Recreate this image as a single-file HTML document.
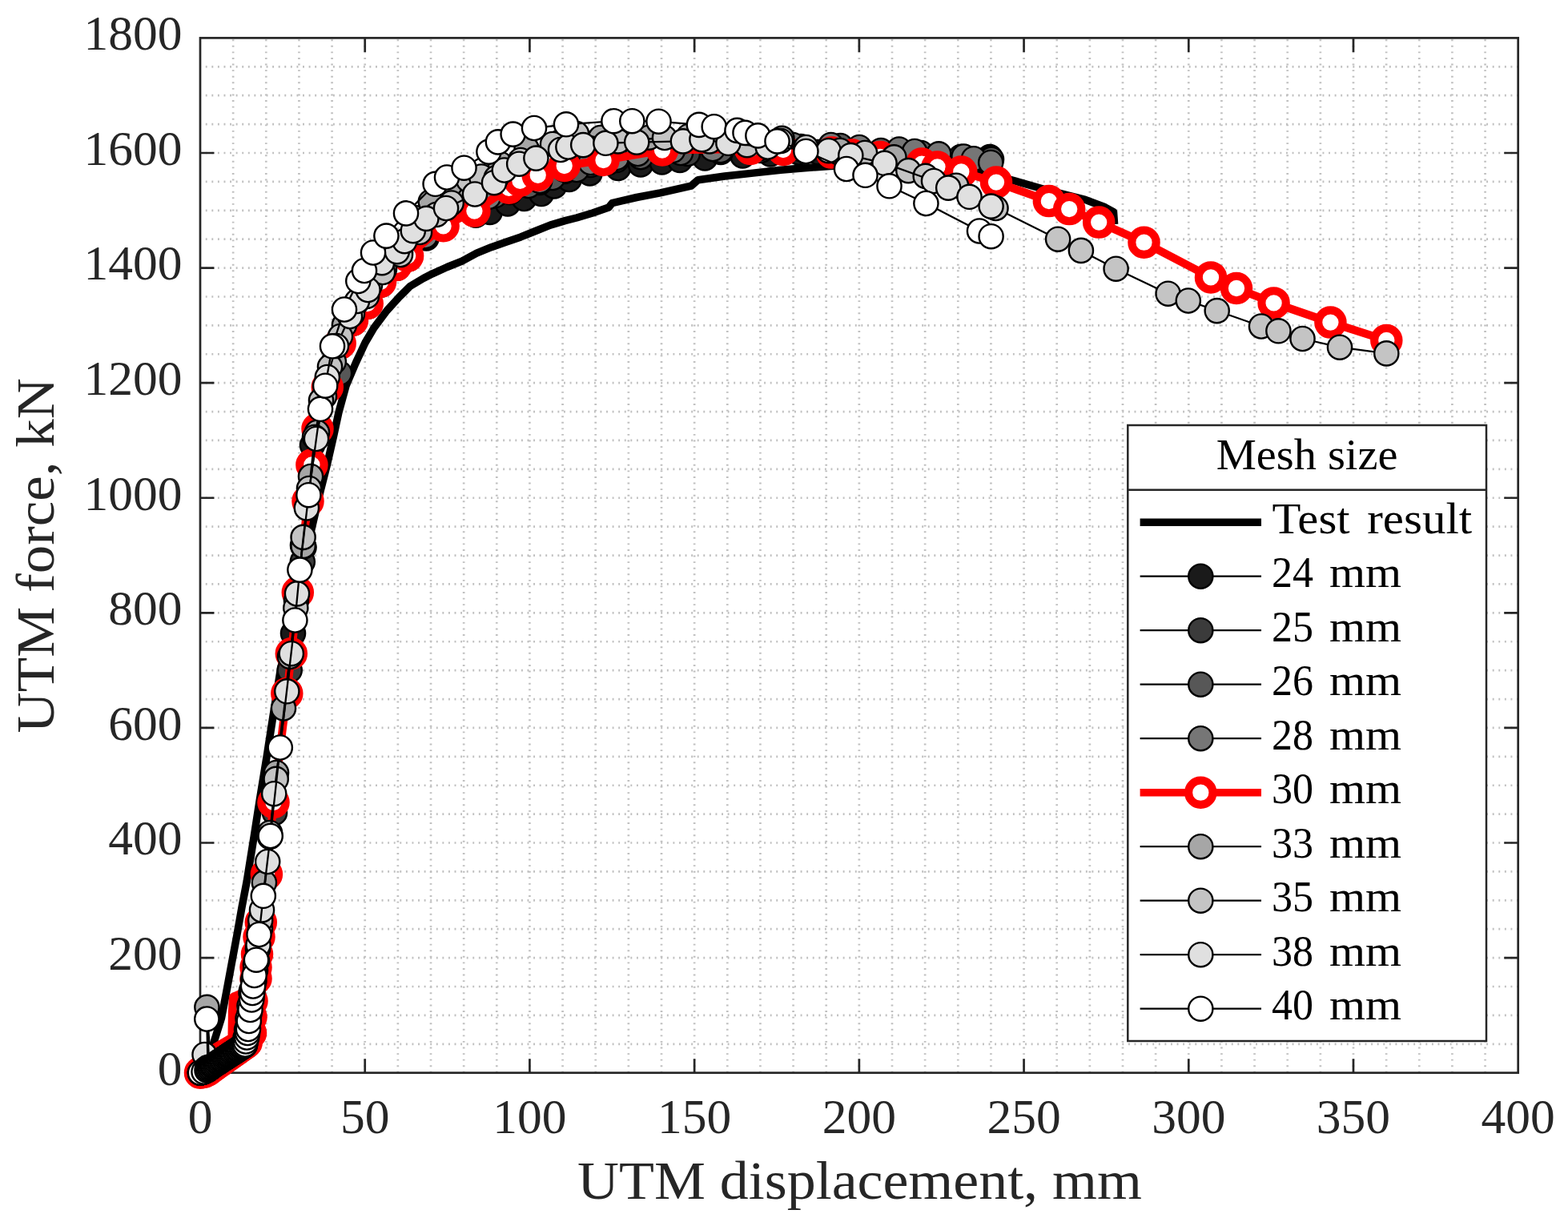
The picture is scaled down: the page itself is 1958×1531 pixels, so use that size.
<!DOCTYPE html>
<html><head><meta charset="utf-8"><style>html,body{margin:0;padding:0;background:#fff;overflow:hidden}svg{display:block}</style></head>
<body>
<svg width="1958" height="1531" viewBox="0 0 1958 1531">
<rect width="1958" height="1531" fill="#fff"/>
<path d="M291.14 47.40V1339.70M332.28 47.40V1339.70M373.43 47.40V1339.70M414.57 47.40V1339.70M455.71 47.40V1339.70M496.86 47.40V1339.70M538.00 47.40V1339.70M579.14 47.40V1339.70M620.28 47.40V1339.70M661.42 47.40V1339.70M702.57 47.40V1339.70M743.71 47.40V1339.70M784.85 47.40V1339.70M826.00 47.40V1339.70M867.14 47.40V1339.70M908.28 47.40V1339.70M949.42 47.40V1339.70M990.57 47.40V1339.70M1031.71 47.40V1339.70M1072.85 47.40V1339.70M1113.99 47.40V1339.70M1155.13 47.40V1339.70M1196.28 47.40V1339.70M1237.42 47.40V1339.70M1278.56 47.40V1339.70M1319.71 47.40V1339.70M1360.85 47.40V1339.70M1401.99 47.40V1339.70M1443.13 47.40V1339.70M1484.28 47.40V1339.70M1525.42 47.40V1339.70M1566.56 47.40V1339.70M1607.70 47.40V1339.70M1648.85 47.40V1339.70M1689.99 47.40V1339.70M1731.13 47.40V1339.70M1772.27 47.40V1339.70M1813.41 47.40V1339.70M1854.56 47.40V1339.70" stroke="#c0c0c0" stroke-width="2.7" stroke-dasharray="1.9 5.68" stroke-dashoffset="5.71" fill="none"/>
<path d="M250.00 1303.80H1895.70M250.00 1267.91H1895.70M250.00 1232.01H1895.70M250.00 1196.11H1895.70M250.00 1160.21H1895.70M250.00 1124.32H1895.70M250.00 1088.42H1895.70M250.00 1052.52H1895.70M250.00 1016.62H1895.70M250.00 980.73H1895.70M250.00 944.83H1895.70M250.00 908.93H1895.70M250.00 873.04H1895.70M250.00 837.14H1895.70M250.00 801.24H1895.70M250.00 765.34H1895.70M250.00 729.45H1895.70M250.00 693.55H1895.70M250.00 657.65H1895.70M250.00 621.76H1895.70M250.00 585.86H1895.70M250.00 549.96H1895.70M250.00 514.06H1895.70M250.00 478.17H1895.70M250.00 442.27H1895.70M250.00 406.37H1895.70M250.00 370.48H1895.70M250.00 334.58H1895.70M250.00 298.68H1895.70M250.00 262.78H1895.70M250.00 226.89H1895.70M250.00 190.99H1895.70M250.00 155.09H1895.70M250.00 119.19H1895.70M250.00 83.30H1895.70" stroke="#c0c0c0" stroke-width="2.7" stroke-dasharray="1.9 5.68" stroke-dashoffset="0.81" fill="none"/>
<path d="M455.71 1339.70v-17.5M455.71 47.40v17.5M661.42 1339.70v-17.5M661.42 47.40v17.5M867.14 1339.70v-17.5M867.14 47.40v17.5M1072.85 1339.70v-17.5M1072.85 47.40v17.5M1278.56 1339.70v-17.5M1278.56 47.40v17.5M1484.28 1339.70v-17.5M1484.28 47.40v17.5M1689.99 1339.70v-17.5M1689.99 47.40v17.5M250.00 1196.11h17.5M1895.70 1196.11h-17.5M250.00 1052.52h17.5M1895.70 1052.52h-17.5M250.00 908.93h17.5M1895.70 908.93h-17.5M250.00 765.34h17.5M1895.70 765.34h-17.5M250.00 621.76h17.5M1895.70 621.76h-17.5M250.00 478.17h17.5M1895.70 478.17h-17.5M250.00 334.58h17.5M1895.70 334.58h-17.5M250.00 190.99h17.5M1895.70 190.99h-17.5" stroke="#262626" stroke-width="2.7" fill="none"/>
<rect x="250.00" y="47.40" width="1645.70" height="1292.30" stroke="#262626" stroke-width="2.7" fill="none"/>
<polyline points="250.0,1339.7 256.0,1333.0 262.0,1318.0 266.0,1305.0 270.0,1292.2 276.5,1271.3 282.5,1240.0 289.5,1202.0 296.0,1167.0 302.0,1133.0 308.3,1100.0 317.2,1044.5 324.5,997.5 333.9,940.0 340.3,898.6 350.0,838.0 363.5,774.0 377.0,712.0 391.3,651.0 400.3,612.3 408.5,580.0 416.5,545.0 422.9,515.2 432.0,482.0 444.1,453.5 456.0,428.0 467.0,409.4 483.0,388.0 498.8,370.6 512.0,357.5 528.8,347.5 540.0,341.8 558.4,333.5 576.8,326.2 595.2,316.1 613.5,308.7 631.9,302.3 650.3,295.9 668.7,288.5 687.1,281.1 705.5,275.6 720.0,272.0 740.0,266.0 760.1,259.0 764.4,253.6 795.0,246.5 824.5,240.8 863.1,232.2 871.7,224.7 905.0,220.0 940.3,216.1 975.0,212.2 1004.7,209.7 1036.8,207.5 1060.0,206.5 1100.0,206.0 1140.0,207.0 1180.0,209.0 1220.0,214.0 1262.3,224.5 1303.5,236.3 1355.2,249.4 1379.9,258.8 1390.5,264.6 1391.6,280.0" fill="none" stroke="#000" stroke-width="9.5" stroke-linejoin="round" stroke-linecap="butt"/>
<polyline points="250.0,1339.7 254.5,1339.2 258.5,1337.2 260.1,1336.0 261.8,1334.7 263.4,1333.5 265.0,1332.2 266.7,1331.2 268.3,1330.1 270.0,1329.1 271.7,1328.1 273.4,1327.1 275.0,1326.0 276.7,1325.0 278.4,1324.0 280.1,1323.0 281.7,1321.9 283.4,1320.9 285.1,1319.9 286.8,1318.8 288.4,1317.8 290.1,1316.8 291.8,1315.8 293.4,1314.7 295.1,1313.7 296.8,1312.7 298.5,1311.7 300.1,1310.6 301.8,1309.6 303.5,1308.6 305.2,1307.6 306.8,1306.5 308.5,1305.5 308.0,1293.5 307.5,1278.5 308.0,1259.5 315.5,1239.5 321.0,1225.5 321.0,1211.5 322.5,1195.1 325.0,1173.5 327.3,1155.2 334.4,1095.2 343.0,1005.5 359.8,869.5 365.3,819.7 366.0,791.0 373.3,743.2 379.5,683.5 386.0,629.4 390.9,584.0 390.0,556.0 398.0,539.0 410.3,487.0 426.2,432.3 441.5,403.5 460.2,382.5 476.5,355.5 496.2,334.6 510.6,323.1 532.5,297.5 553.8,283.3 594.2,268.6 611.7,264.9 634.0,254.5 654.4,248.0 676.0,242.0 692.0,232.5 710.8,224.0 736.5,216.5 771.9,210.0 800.0,205.5 826.6,202.5 849.0,200.0 880.2,197.5 927.4,194.5 962.0,192.5 997.5,190.5 1021.0,190.0 1060.0,191.0 1100.0,192.0 1150.0,194.0 1200.0,196.0 1236.0,196.0" fill="none" stroke="#000" stroke-width="2.3" stroke-linejoin="round"/>
<g fill="#1a1a1a" stroke="#000" stroke-width="2.4"><circle cx="250.0" cy="1339.7" r="15.1"/><circle cx="254.5" cy="1339.2" r="15.1"/><circle cx="258.5" cy="1337.2" r="15.1"/><circle cx="260.1" cy="1336.0" r="15.1"/><circle cx="261.8" cy="1334.7" r="15.1"/><circle cx="263.4" cy="1333.5" r="15.1"/><circle cx="265.0" cy="1332.2" r="15.1"/><circle cx="266.7" cy="1331.2" r="15.1"/><circle cx="268.3" cy="1330.1" r="15.1"/><circle cx="270.0" cy="1329.1" r="15.1"/><circle cx="271.7" cy="1328.1" r="15.1"/><circle cx="273.4" cy="1327.1" r="15.1"/><circle cx="275.0" cy="1326.0" r="15.1"/><circle cx="276.7" cy="1325.0" r="15.1"/><circle cx="278.4" cy="1324.0" r="15.1"/><circle cx="280.1" cy="1323.0" r="15.1"/><circle cx="281.7" cy="1321.9" r="15.1"/><circle cx="283.4" cy="1320.9" r="15.1"/><circle cx="285.1" cy="1319.9" r="15.1"/><circle cx="286.8" cy="1318.8" r="15.1"/><circle cx="288.4" cy="1317.8" r="15.1"/><circle cx="290.1" cy="1316.8" r="15.1"/><circle cx="291.8" cy="1315.8" r="15.1"/><circle cx="293.4" cy="1314.7" r="15.1"/><circle cx="295.1" cy="1313.7" r="15.1"/><circle cx="296.8" cy="1312.7" r="15.1"/><circle cx="298.5" cy="1311.7" r="15.1"/><circle cx="300.1" cy="1310.6" r="15.1"/><circle cx="301.8" cy="1309.6" r="15.1"/><circle cx="303.5" cy="1308.6" r="15.1"/><circle cx="305.2" cy="1307.6" r="15.1"/><circle cx="306.8" cy="1306.5" r="15.1"/><circle cx="308.5" cy="1305.5" r="15.1"/><circle cx="308.0" cy="1293.5" r="15.1"/><circle cx="307.5" cy="1278.5" r="15.1"/><circle cx="308.0" cy="1259.5" r="15.1"/><circle cx="315.5" cy="1239.5" r="15.1"/><circle cx="321.0" cy="1225.5" r="15.1"/><circle cx="321.0" cy="1211.5" r="15.1"/><circle cx="322.5" cy="1195.1" r="15.1"/><circle cx="325.0" cy="1173.5" r="15.1"/><circle cx="327.3" cy="1155.2" r="15.1"/><circle cx="334.4" cy="1095.2" r="15.1"/><circle cx="343.0" cy="1005.5" r="15.1"/><circle cx="359.8" cy="869.5" r="15.1"/><circle cx="365.3" cy="819.7" r="15.1"/><circle cx="366.0" cy="791.0" r="15.1"/><circle cx="373.3" cy="743.2" r="15.1"/><circle cx="379.5" cy="683.5" r="15.1"/><circle cx="386.0" cy="629.4" r="15.1"/><circle cx="390.9" cy="584.0" r="15.1"/><circle cx="390.0" cy="556.0" r="15.1"/><circle cx="398.0" cy="539.0" r="15.1"/><circle cx="410.3" cy="487.0" r="15.1"/><circle cx="426.2" cy="432.3" r="15.1"/><circle cx="441.5" cy="403.5" r="15.1"/><circle cx="460.2" cy="382.5" r="15.1"/><circle cx="476.5" cy="355.5" r="15.1"/><circle cx="496.2" cy="334.6" r="15.1"/><circle cx="510.6" cy="323.1" r="15.1"/><circle cx="532.5" cy="297.5" r="15.1"/><circle cx="553.8" cy="283.3" r="15.1"/><circle cx="594.2" cy="268.6" r="15.1"/><circle cx="611.7" cy="264.9" r="15.1"/><circle cx="634.0" cy="254.5" r="15.1"/><circle cx="654.4" cy="248.0" r="15.1"/><circle cx="676.0" cy="242.0" r="15.1"/><circle cx="692.0" cy="232.5" r="15.1"/><circle cx="710.8" cy="224.0" r="15.1"/><circle cx="736.5" cy="216.5" r="15.1"/><circle cx="771.9" cy="210.0" r="15.1"/><circle cx="800.0" cy="205.5" r="15.1"/><circle cx="826.6" cy="202.5" r="15.1"/><circle cx="849.0" cy="200.0" r="15.1"/><circle cx="880.2" cy="197.5" r="15.1"/><circle cx="927.4" cy="194.5" r="15.1"/><circle cx="962.0" cy="192.5" r="15.1"/><circle cx="997.5" cy="190.5" r="15.1"/><circle cx="1021.0" cy="190.0" r="15.1"/><circle cx="1060.0" cy="191.0" r="15.1"/><circle cx="1100.0" cy="192.0" r="15.1"/><circle cx="1150.0" cy="194.0" r="15.1"/><circle cx="1200.0" cy="196.0" r="15.1"/><circle cx="1236.0" cy="196.0" r="15.1"/></g>
<polyline points="250.0,1339.7 254.5,1339.0 258.5,1337.0 260.1,1335.8 261.8,1334.5 263.4,1333.2 265.0,1332.0 266.7,1330.9 268.4,1329.8 270.2,1328.8 271.9,1327.7 273.6,1326.6 275.3,1325.5 277.0,1324.4 278.8,1323.4 280.5,1322.3 282.2,1321.2 283.9,1320.1 285.6,1319.0 287.4,1318.0 289.1,1316.9 290.8,1315.8 292.5,1314.7 294.2,1313.6 296.0,1312.6 297.7,1311.5 299.4,1310.4 301.1,1309.3 302.8,1308.2 304.6,1307.2 306.3,1306.1 308.0,1305.0 307.5,1292.5 307.0,1277.5 307.5,1258.5 315.0,1238.5 320.5,1224.5 320.5,1210.5 322.0,1194.1 324.5,1172.5 326.8,1154.2 333.9,1094.2 343.0,1015.0 342.5,1004.5 359.3,868.5 361.7,837.0 364.8,818.7 372.8,742.2 377.8,701.5 379.0,682.5 385.5,628.4 390.4,583.0 397.5,538.0 409.8,486.0 425.7,431.3 441.0,402.5 459.7,381.5 476.0,354.5 495.7,333.6 510.1,322.1 532.0,296.5 551.0,281.0 590.0,264.0 613.5,245.0 629.9,235.0 650.0,230.0 674.0,228.0 705.0,214.0 737.6,206.0 770.0,200.0 800.0,196.0 858.8,192.0 900.0,190.0 950.0,188.0 1000.0,186.0 1050.0,186.0 1100.0,189.0 1150.0,192.0 1200.0,197.0 1237.0,198.0" fill="none" stroke="#000" stroke-width="2.3" stroke-linejoin="round"/>
<g fill="#3b3b3b" stroke="#000" stroke-width="2.4"><circle cx="250.0" cy="1339.7" r="15.1"/><circle cx="254.5" cy="1339.0" r="15.1"/><circle cx="258.5" cy="1337.0" r="15.1"/><circle cx="260.1" cy="1335.8" r="15.1"/><circle cx="261.8" cy="1334.5" r="15.1"/><circle cx="263.4" cy="1333.2" r="15.1"/><circle cx="265.0" cy="1332.0" r="15.1"/><circle cx="266.7" cy="1330.9" r="15.1"/><circle cx="268.4" cy="1329.8" r="15.1"/><circle cx="270.2" cy="1328.8" r="15.1"/><circle cx="271.9" cy="1327.7" r="15.1"/><circle cx="273.6" cy="1326.6" r="15.1"/><circle cx="275.3" cy="1325.5" r="15.1"/><circle cx="277.0" cy="1324.4" r="15.1"/><circle cx="278.8" cy="1323.4" r="15.1"/><circle cx="280.5" cy="1322.3" r="15.1"/><circle cx="282.2" cy="1321.2" r="15.1"/><circle cx="283.9" cy="1320.1" r="15.1"/><circle cx="285.6" cy="1319.0" r="15.1"/><circle cx="287.4" cy="1318.0" r="15.1"/><circle cx="289.1" cy="1316.9" r="15.1"/><circle cx="290.8" cy="1315.8" r="15.1"/><circle cx="292.5" cy="1314.7" r="15.1"/><circle cx="294.2" cy="1313.6" r="15.1"/><circle cx="296.0" cy="1312.6" r="15.1"/><circle cx="297.7" cy="1311.5" r="15.1"/><circle cx="299.4" cy="1310.4" r="15.1"/><circle cx="301.1" cy="1309.3" r="15.1"/><circle cx="302.8" cy="1308.2" r="15.1"/><circle cx="304.6" cy="1307.2" r="15.1"/><circle cx="306.3" cy="1306.1" r="15.1"/><circle cx="308.0" cy="1305.0" r="15.1"/><circle cx="307.5" cy="1292.5" r="15.1"/><circle cx="307.0" cy="1277.5" r="15.1"/><circle cx="307.5" cy="1258.5" r="15.1"/><circle cx="315.0" cy="1238.5" r="15.1"/><circle cx="320.5" cy="1224.5" r="15.1"/><circle cx="320.5" cy="1210.5" r="15.1"/><circle cx="322.0" cy="1194.1" r="15.1"/><circle cx="324.5" cy="1172.5" r="15.1"/><circle cx="326.8" cy="1154.2" r="15.1"/><circle cx="333.9" cy="1094.2" r="15.1"/><circle cx="343.0" cy="1015.0" r="15.1"/><circle cx="342.5" cy="1004.5" r="15.1"/><circle cx="359.3" cy="868.5" r="15.1"/><circle cx="361.7" cy="837.0" r="15.1"/><circle cx="364.8" cy="818.7" r="15.1"/><circle cx="372.8" cy="742.2" r="15.1"/><circle cx="377.8" cy="701.5" r="15.1"/><circle cx="379.0" cy="682.5" r="15.1"/><circle cx="385.5" cy="628.4" r="15.1"/><circle cx="390.4" cy="583.0" r="15.1"/><circle cx="397.5" cy="538.0" r="15.1"/><circle cx="409.8" cy="486.0" r="15.1"/><circle cx="425.7" cy="431.3" r="15.1"/><circle cx="441.0" cy="402.5" r="15.1"/><circle cx="459.7" cy="381.5" r="15.1"/><circle cx="476.0" cy="354.5" r="15.1"/><circle cx="495.7" cy="333.6" r="15.1"/><circle cx="510.1" cy="322.1" r="15.1"/><circle cx="532.0" cy="296.5" r="15.1"/><circle cx="551.0" cy="281.0" r="15.1"/><circle cx="590.0" cy="264.0" r="15.1"/><circle cx="613.5" cy="245.0" r="15.1"/><circle cx="629.9" cy="235.0" r="15.1"/><circle cx="650.0" cy="230.0" r="15.1"/><circle cx="674.0" cy="228.0" r="15.1"/><circle cx="705.0" cy="214.0" r="15.1"/><circle cx="737.6" cy="206.0" r="15.1"/><circle cx="770.0" cy="200.0" r="15.1"/><circle cx="800.0" cy="196.0" r="15.1"/><circle cx="858.8" cy="192.0" r="15.1"/><circle cx="900.0" cy="190.0" r="15.1"/><circle cx="950.0" cy="188.0" r="15.1"/><circle cx="1000.0" cy="186.0" r="15.1"/><circle cx="1050.0" cy="186.0" r="15.1"/><circle cx="1100.0" cy="189.0" r="15.1"/><circle cx="1150.0" cy="192.0" r="15.1"/><circle cx="1200.0" cy="197.0" r="15.1"/><circle cx="1237.0" cy="198.0" r="15.1"/></g>
<polyline points="250.0,1339.7 254.5,1338.8 258.5,1336.8 260.1,1335.5 261.8,1334.3 263.4,1333.0 265.0,1331.8 266.7,1330.7 268.4,1329.6 270.1,1328.5 271.8,1327.4 273.5,1326.3 275.2,1325.2 276.9,1324.2 278.6,1323.1 280.3,1322.0 282.0,1320.9 283.7,1319.8 285.4,1318.7 287.1,1317.6 288.8,1316.5 290.5,1315.4 292.2,1314.3 293.9,1313.2 295.6,1312.1 297.3,1311.1 299.0,1310.0 300.7,1308.9 302.4,1307.8 304.1,1306.7 305.8,1305.6 307.5,1304.5 307.0,1291.5 306.5,1276.5 307.0,1257.5 314.5,1237.5 320.0,1223.5 320.0,1209.5 321.5,1193.1 324.0,1171.5 326.3,1153.2 333.4,1093.2 342.0,1003.5 358.8,867.5 364.3,817.7 372.3,741.2 378.5,681.5 385.0,627.4 389.9,582.0 397.0,537.0 409.3,485.0 424.0,466.0 425.2,430.3 440.5,401.5 459.2,380.5 475.5,353.5 495.2,332.6 509.6,321.1 531.5,295.5 550.0,279.0 588.0,262.0 618.3,244.0 637.0,240.0 660.0,232.0 690.0,222.0 720.0,212.0 760.0,203.0 800.0,196.0 850.0,191.0 900.0,188.0 950.0,185.0 1000.0,183.0 1049.4,182.0 1100.0,188.0 1150.0,191.0 1200.0,196.0 1238.0,199.0" fill="none" stroke="#000" stroke-width="2.3" stroke-linejoin="round"/>
<g fill="#575757" stroke="#000" stroke-width="2.4"><circle cx="250.0" cy="1339.7" r="15.1"/><circle cx="254.5" cy="1338.8" r="15.1"/><circle cx="258.5" cy="1336.8" r="15.1"/><circle cx="260.1" cy="1335.5" r="15.1"/><circle cx="261.8" cy="1334.3" r="15.1"/><circle cx="263.4" cy="1333.0" r="15.1"/><circle cx="265.0" cy="1331.8" r="15.1"/><circle cx="266.7" cy="1330.7" r="15.1"/><circle cx="268.4" cy="1329.6" r="15.1"/><circle cx="270.1" cy="1328.5" r="15.1"/><circle cx="271.8" cy="1327.4" r="15.1"/><circle cx="273.5" cy="1326.3" r="15.1"/><circle cx="275.2" cy="1325.2" r="15.1"/><circle cx="276.9" cy="1324.2" r="15.1"/><circle cx="278.6" cy="1323.1" r="15.1"/><circle cx="280.3" cy="1322.0" r="15.1"/><circle cx="282.0" cy="1320.9" r="15.1"/><circle cx="283.7" cy="1319.8" r="15.1"/><circle cx="285.4" cy="1318.7" r="15.1"/><circle cx="287.1" cy="1317.6" r="15.1"/><circle cx="288.8" cy="1316.5" r="15.1"/><circle cx="290.5" cy="1315.4" r="15.1"/><circle cx="292.2" cy="1314.3" r="15.1"/><circle cx="293.9" cy="1313.2" r="15.1"/><circle cx="295.6" cy="1312.1" r="15.1"/><circle cx="297.3" cy="1311.1" r="15.1"/><circle cx="299.0" cy="1310.0" r="15.1"/><circle cx="300.7" cy="1308.9" r="15.1"/><circle cx="302.4" cy="1307.8" r="15.1"/><circle cx="304.1" cy="1306.7" r="15.1"/><circle cx="305.8" cy="1305.6" r="15.1"/><circle cx="307.5" cy="1304.5" r="15.1"/><circle cx="307.0" cy="1291.5" r="15.1"/><circle cx="306.5" cy="1276.5" r="15.1"/><circle cx="307.0" cy="1257.5" r="15.1"/><circle cx="314.5" cy="1237.5" r="15.1"/><circle cx="320.0" cy="1223.5" r="15.1"/><circle cx="320.0" cy="1209.5" r="15.1"/><circle cx="321.5" cy="1193.1" r="15.1"/><circle cx="324.0" cy="1171.5" r="15.1"/><circle cx="326.3" cy="1153.2" r="15.1"/><circle cx="333.4" cy="1093.2" r="15.1"/><circle cx="342.0" cy="1003.5" r="15.1"/><circle cx="358.8" cy="867.5" r="15.1"/><circle cx="364.3" cy="817.7" r="15.1"/><circle cx="372.3" cy="741.2" r="15.1"/><circle cx="378.5" cy="681.5" r="15.1"/><circle cx="385.0" cy="627.4" r="15.1"/><circle cx="389.9" cy="582.0" r="15.1"/><circle cx="397.0" cy="537.0" r="15.1"/><circle cx="409.3" cy="485.0" r="15.1"/><circle cx="424.0" cy="466.0" r="15.1"/><circle cx="425.2" cy="430.3" r="15.1"/><circle cx="440.5" cy="401.5" r="15.1"/><circle cx="459.2" cy="380.5" r="15.1"/><circle cx="475.5" cy="353.5" r="15.1"/><circle cx="495.2" cy="332.6" r="15.1"/><circle cx="509.6" cy="321.1" r="15.1"/><circle cx="531.5" cy="295.5" r="15.1"/><circle cx="550.0" cy="279.0" r="15.1"/><circle cx="588.0" cy="262.0" r="15.1"/><circle cx="618.3" cy="244.0" r="15.1"/><circle cx="637.0" cy="240.0" r="15.1"/><circle cx="660.0" cy="232.0" r="15.1"/><circle cx="690.0" cy="222.0" r="15.1"/><circle cx="720.0" cy="212.0" r="15.1"/><circle cx="760.0" cy="203.0" r="15.1"/><circle cx="800.0" cy="196.0" r="15.1"/><circle cx="850.0" cy="191.0" r="15.1"/><circle cx="900.0" cy="188.0" r="15.1"/><circle cx="950.0" cy="185.0" r="15.1"/><circle cx="1000.0" cy="183.0" r="15.1"/><circle cx="1049.4" cy="182.0" r="15.1"/><circle cx="1100.0" cy="188.0" r="15.1"/><circle cx="1150.0" cy="191.0" r="15.1"/><circle cx="1200.0" cy="196.0" r="15.1"/><circle cx="1238.0" cy="199.0" r="15.1"/></g>
<polyline points="250.0,1339.7 254.5,1338.7 258.5,1336.7 260.1,1335.5 261.8,1334.2 263.4,1333.0 265.0,1331.7 266.7,1330.6 268.4,1329.5 270.0,1328.4 271.7,1327.3 273.4,1326.2 275.1,1325.1 276.8,1323.9 278.4,1322.8 280.1,1321.7 281.8,1320.6 283.5,1319.5 285.2,1318.4 286.8,1317.3 288.5,1316.2 290.2,1315.1 291.9,1314.0 293.6,1312.9 295.2,1311.8 296.9,1310.6 298.6,1309.5 300.3,1308.4 302.0,1307.3 303.6,1306.2 305.3,1305.1 307.0,1304.0 306.5,1291.0 306.0,1276.0 306.5,1257.0 314.0,1237.0 319.5,1223.0 319.5,1209.0 321.0,1192.6 323.5,1171.0 325.8,1152.7 332.9,1092.7 341.5,1003.0 358.3,867.0 363.8,817.2 371.8,740.7 378.0,681.0 384.5,626.9 389.4,581.5 396.5,536.5 408.8,484.5 424.7,429.8 440.0,401.0 458.7,380.0 475.0,353.0 494.7,332.1 509.1,320.6 531.0,295.0 549.0,277.0 586.0,260.0 610.0,246.0 640.0,236.0 674.1,226.0 705.0,212.0 737.6,203.0 770.0,197.0 796.4,192.0 840.0,188.0 890.0,186.0 940.0,184.0 990.0,181.0 1037.6,181.0 1073.0,184.0 1122.7,186.5 1142.1,189.0 1172.2,192.4 1203.5,195.5 1215.9,198.2 1237.2,203.0" fill="none" stroke="#000" stroke-width="2.3" stroke-linejoin="round"/>
<g fill="#767676" stroke="#000" stroke-width="2.4"><circle cx="250.0" cy="1339.7" r="15.1"/><circle cx="254.5" cy="1338.7" r="15.1"/><circle cx="258.5" cy="1336.7" r="15.1"/><circle cx="260.1" cy="1335.5" r="15.1"/><circle cx="261.8" cy="1334.2" r="15.1"/><circle cx="263.4" cy="1333.0" r="15.1"/><circle cx="265.0" cy="1331.7" r="15.1"/><circle cx="266.7" cy="1330.6" r="15.1"/><circle cx="268.4" cy="1329.5" r="15.1"/><circle cx="270.0" cy="1328.4" r="15.1"/><circle cx="271.7" cy="1327.3" r="15.1"/><circle cx="273.4" cy="1326.2" r="15.1"/><circle cx="275.1" cy="1325.1" r="15.1"/><circle cx="276.8" cy="1323.9" r="15.1"/><circle cx="278.4" cy="1322.8" r="15.1"/><circle cx="280.1" cy="1321.7" r="15.1"/><circle cx="281.8" cy="1320.6" r="15.1"/><circle cx="283.5" cy="1319.5" r="15.1"/><circle cx="285.2" cy="1318.4" r="15.1"/><circle cx="286.8" cy="1317.3" r="15.1"/><circle cx="288.5" cy="1316.2" r="15.1"/><circle cx="290.2" cy="1315.1" r="15.1"/><circle cx="291.9" cy="1314.0" r="15.1"/><circle cx="293.6" cy="1312.9" r="15.1"/><circle cx="295.2" cy="1311.8" r="15.1"/><circle cx="296.9" cy="1310.6" r="15.1"/><circle cx="298.6" cy="1309.5" r="15.1"/><circle cx="300.3" cy="1308.4" r="15.1"/><circle cx="302.0" cy="1307.3" r="15.1"/><circle cx="303.6" cy="1306.2" r="15.1"/><circle cx="305.3" cy="1305.1" r="15.1"/><circle cx="307.0" cy="1304.0" r="15.1"/><circle cx="306.5" cy="1291.0" r="15.1"/><circle cx="306.0" cy="1276.0" r="15.1"/><circle cx="306.5" cy="1257.0" r="15.1"/><circle cx="314.0" cy="1237.0" r="15.1"/><circle cx="319.5" cy="1223.0" r="15.1"/><circle cx="319.5" cy="1209.0" r="15.1"/><circle cx="321.0" cy="1192.6" r="15.1"/><circle cx="323.5" cy="1171.0" r="15.1"/><circle cx="325.8" cy="1152.7" r="15.1"/><circle cx="332.9" cy="1092.7" r="15.1"/><circle cx="341.5" cy="1003.0" r="15.1"/><circle cx="358.3" cy="867.0" r="15.1"/><circle cx="363.8" cy="817.2" r="15.1"/><circle cx="371.8" cy="740.7" r="15.1"/><circle cx="378.0" cy="681.0" r="15.1"/><circle cx="384.5" cy="626.9" r="15.1"/><circle cx="389.4" cy="581.5" r="15.1"/><circle cx="396.5" cy="536.5" r="15.1"/><circle cx="408.8" cy="484.5" r="15.1"/><circle cx="424.7" cy="429.8" r="15.1"/><circle cx="440.0" cy="401.0" r="15.1"/><circle cx="458.7" cy="380.0" r="15.1"/><circle cx="475.0" cy="353.0" r="15.1"/><circle cx="494.7" cy="332.1" r="15.1"/><circle cx="509.1" cy="320.6" r="15.1"/><circle cx="531.0" cy="295.0" r="15.1"/><circle cx="549.0" cy="277.0" r="15.1"/><circle cx="586.0" cy="260.0" r="15.1"/><circle cx="610.0" cy="246.0" r="15.1"/><circle cx="640.0" cy="236.0" r="15.1"/><circle cx="674.1" cy="226.0" r="15.1"/><circle cx="705.0" cy="212.0" r="15.1"/><circle cx="737.6" cy="203.0" r="15.1"/><circle cx="770.0" cy="197.0" r="15.1"/><circle cx="796.4" cy="192.0" r="15.1"/><circle cx="840.0" cy="188.0" r="15.1"/><circle cx="890.0" cy="186.0" r="15.1"/><circle cx="940.0" cy="184.0" r="15.1"/><circle cx="990.0" cy="181.0" r="15.1"/><circle cx="1037.6" cy="181.0" r="15.1"/><circle cx="1073.0" cy="184.0" r="15.1"/><circle cx="1122.7" cy="186.5" r="15.1"/><circle cx="1142.1" cy="189.0" r="15.1"/><circle cx="1172.2" cy="192.4" r="15.1"/><circle cx="1203.5" cy="195.5" r="15.1"/><circle cx="1215.9" cy="198.2" r="15.1"/><circle cx="1237.2" cy="203.0" r="15.1"/></g>
<g>
<polyline points="250.0,1339.7 254.5,1339.0 258.5,1337.0 260.1,1335.8 261.8,1334.5 263.4,1333.2 265.0,1332.0 266.6,1330.8 268.3,1329.7 269.9,1328.5 271.6,1327.3 273.2,1326.2 274.9,1325.0 276.5,1323.8 278.1,1322.7 279.8,1321.5 281.4,1320.3 283.1,1319.2 284.7,1318.0 286.4,1316.8 288.0,1315.7 289.6,1314.5 291.3,1313.4 292.9,1312.2 294.6,1311.0 296.2,1309.9 297.8,1308.7 299.5,1307.5 301.1,1306.4 302.8,1305.2 304.4,1304.0 306.1,1302.9 307.7,1301.7 313.0,1290.0 313.5,1270.0 314.5,1250.0 319.5,1222.0 319.5,1208.0 321.0,1191.6 323.5,1170.0 325.8,1151.7 332.9,1091.7 341.5,1002.0 358.3,866.0 363.8,816.2 371.8,739.7 384.5,625.9 389.4,580.5 396.5,535.5 408.8,483.5 424.7,428.8 440.0,400.0 458.7,379.0 475.0,352.0 494.7,331.1 509.1,319.6 553.6,282.3 592.4,263.6 635.5,234.8 649.4,225.8 671.7,218.8 704.7,207.0 753.5,200.0 827.0,187.5 937.0,186.0 978.0,187.0 1038.5,190.6 1064.0,193.5 1099.0,196.0 1151.0,204.6 1170.5,208.5 1200.3,214.5 1244.0,227.6 1309.9,251.1 1335.2,261.1 1372.2,277.6 1428.5,302.7 1512.0,346.4 1544.0,360.0 1590.6,378.4 1661.4,402.6 1731.3,425.0" fill="none" stroke="#f00" stroke-width="10.1" stroke-linejoin="round"/>
<polyline points="307.7,1301.7 269.0,1307.5 289.5,1295.5 290.0,1262.0 291.0,1245.0 312.0,1236.0 319.5,1222.0" fill="none" stroke="#f00" stroke-width="10.1" stroke-linejoin="round"/>
<g fill="#fff" stroke="#f00" stroke-width="10.1"><circle cx="250.0" cy="1339.7" r="15.2"/><circle cx="254.5" cy="1339.0" r="15.2"/><circle cx="258.5" cy="1337.0" r="15.2"/><circle cx="260.1" cy="1335.8" r="15.2"/><circle cx="261.8" cy="1334.5" r="15.2"/><circle cx="263.4" cy="1333.2" r="15.2"/><circle cx="265.0" cy="1332.0" r="15.2"/><circle cx="266.6" cy="1330.8" r="15.2"/><circle cx="268.3" cy="1329.7" r="15.2"/><circle cx="269.9" cy="1328.5" r="15.2"/><circle cx="271.6" cy="1327.3" r="15.2"/><circle cx="273.2" cy="1326.2" r="15.2"/><circle cx="274.9" cy="1325.0" r="15.2"/><circle cx="276.5" cy="1323.8" r="15.2"/><circle cx="278.1" cy="1322.7" r="15.2"/><circle cx="279.8" cy="1321.5" r="15.2"/><circle cx="281.4" cy="1320.3" r="15.2"/><circle cx="283.1" cy="1319.2" r="15.2"/><circle cx="284.7" cy="1318.0" r="15.2"/><circle cx="286.4" cy="1316.8" r="15.2"/><circle cx="288.0" cy="1315.7" r="15.2"/><circle cx="289.6" cy="1314.5" r="15.2"/><circle cx="291.3" cy="1313.4" r="15.2"/><circle cx="292.9" cy="1312.2" r="15.2"/><circle cx="294.6" cy="1311.0" r="15.2"/><circle cx="296.2" cy="1309.9" r="15.2"/><circle cx="297.8" cy="1308.7" r="15.2"/><circle cx="299.5" cy="1307.5" r="15.2"/><circle cx="301.1" cy="1306.4" r="15.2"/><circle cx="302.8" cy="1305.2" r="15.2"/><circle cx="304.4" cy="1304.0" r="15.2"/><circle cx="306.1" cy="1302.9" r="15.2"/><circle cx="307.7" cy="1301.7" r="15.2"/><circle cx="313.0" cy="1290.0" r="15.2"/><circle cx="313.5" cy="1270.0" r="15.2"/><circle cx="314.5" cy="1250.0" r="15.2"/><circle cx="319.5" cy="1222.0" r="15.2"/><circle cx="319.5" cy="1208.0" r="15.2"/><circle cx="321.0" cy="1191.6" r="15.2"/><circle cx="323.5" cy="1170.0" r="15.2"/><circle cx="325.8" cy="1151.7" r="15.2"/><circle cx="332.9" cy="1091.7" r="15.2"/><circle cx="341.5" cy="1002.0" r="15.2"/><circle cx="358.3" cy="866.0" r="15.2"/><circle cx="363.8" cy="816.2" r="15.2"/><circle cx="371.8" cy="739.7" r="15.2"/><circle cx="384.5" cy="625.9" r="15.2"/><circle cx="389.4" cy="580.5" r="15.2"/><circle cx="396.5" cy="535.5" r="15.2"/><circle cx="408.8" cy="483.5" r="15.2"/><circle cx="424.7" cy="428.8" r="15.2"/><circle cx="440.0" cy="400.0" r="15.2"/><circle cx="458.7" cy="379.0" r="15.2"/><circle cx="475.0" cy="352.0" r="15.2"/><circle cx="494.7" cy="331.1" r="15.2"/><circle cx="509.1" cy="319.6" r="15.2"/><circle cx="553.6" cy="282.3" r="15.2"/><circle cx="592.4" cy="263.6" r="15.2"/><circle cx="635.5" cy="234.8" r="15.2"/><circle cx="649.4" cy="225.8" r="15.2"/><circle cx="671.7" cy="218.8" r="15.2"/><circle cx="704.7" cy="207.0" r="15.2"/><circle cx="753.5" cy="200.0" r="15.2"/><circle cx="827.0" cy="187.5" r="15.2"/><circle cx="937.0" cy="186.0" r="15.2"/><circle cx="978.0" cy="187.0" r="15.2"/><circle cx="1038.5" cy="190.6" r="15.2"/><circle cx="1064.0" cy="193.5" r="15.2"/><circle cx="1099.0" cy="196.0" r="15.2"/><circle cx="1151.0" cy="204.6" r="15.2"/><circle cx="1170.5" cy="208.5" r="15.2"/><circle cx="1200.3" cy="214.5" r="15.2"/><circle cx="1244.0" cy="227.6" r="15.2"/><circle cx="1309.9" cy="251.1" r="15.2"/><circle cx="1335.2" cy="261.1" r="15.2"/><circle cx="1372.2" cy="277.6" r="15.2"/><circle cx="1428.5" cy="302.7" r="15.2"/><circle cx="1512.0" cy="346.4" r="15.2"/><circle cx="1544.0" cy="360.0" r="15.2"/><circle cx="1590.6" cy="378.4" r="15.2"/><circle cx="1661.4" cy="402.6" r="15.2"/><circle cx="1731.3" cy="425.0" r="15.2"/></g>
</g>
<polyline points="250.0,1339.7 254.5,1338.5 260.0,1333.0 258.4,1257.8 263.3,1333.5 258.5,1336.5 260.1,1335.2 261.8,1334.0 263.4,1332.8 265.0,1331.5 266.7,1330.4 268.4,1329.3 270.1,1328.2 271.8,1327.1 273.5,1326.0 275.2,1324.9 277.0,1323.8 278.7,1322.7 280.4,1321.6 282.1,1320.5 283.8,1319.4 285.5,1318.2 287.2,1317.1 288.9,1316.0 290.6,1314.9 292.3,1313.8 294.0,1312.7 295.8,1311.6 297.5,1310.5 299.2,1309.4 300.9,1308.3 302.6,1307.2 304.3,1306.1 306.0,1305.0 308.0,1293.0 310.0,1278.0 312.0,1262.0 314.5,1245.0 317.5,1225.0 321.0,1200.0 325.0,1160.0 329.9,1102.3 337.0,1040.0 345.0,965.0 354.0,884.5 362.0,820.0 370.0,750.0 378.6,681.9 388.0,595.0 396.0,540.0 405.0,495.0 416.8,451.7 430.0,405.9 445.0,378.0 462.0,356.0 480.0,336.0 500.0,315.0 518.0,272.0 537.8,252.1 565.0,240.0 596.7,224.8 625.0,205.0 657.6,185.8 700.0,177.0 750.0,172.0 810.5,171.7 860.0,170.0 920.0,171.0 976.4,172.9 1049.0,188.0 1116.4,196.4" fill="none" stroke="#000" stroke-width="2.3" stroke-linejoin="round"/>
<g fill="#a6a6a6" stroke="#000" stroke-width="2.4"><circle cx="250.0" cy="1339.7" r="15.1"/><circle cx="254.5" cy="1338.5" r="15.1"/><circle cx="260.0" cy="1333.0" r="15.1"/><circle cx="258.4" cy="1257.8" r="15.1"/><circle cx="263.3" cy="1333.5" r="15.1"/><circle cx="258.5" cy="1336.5" r="15.1"/><circle cx="260.1" cy="1335.2" r="15.1"/><circle cx="261.8" cy="1334.0" r="15.1"/><circle cx="263.4" cy="1332.8" r="15.1"/><circle cx="265.0" cy="1331.5" r="15.1"/><circle cx="266.7" cy="1330.4" r="15.1"/><circle cx="268.4" cy="1329.3" r="15.1"/><circle cx="270.1" cy="1328.2" r="15.1"/><circle cx="271.8" cy="1327.1" r="15.1"/><circle cx="273.5" cy="1326.0" r="15.1"/><circle cx="275.2" cy="1324.9" r="15.1"/><circle cx="277.0" cy="1323.8" r="15.1"/><circle cx="278.7" cy="1322.7" r="15.1"/><circle cx="280.4" cy="1321.6" r="15.1"/><circle cx="282.1" cy="1320.5" r="15.1"/><circle cx="283.8" cy="1319.4" r="15.1"/><circle cx="285.5" cy="1318.2" r="15.1"/><circle cx="287.2" cy="1317.1" r="15.1"/><circle cx="288.9" cy="1316.0" r="15.1"/><circle cx="290.6" cy="1314.9" r="15.1"/><circle cx="292.3" cy="1313.8" r="15.1"/><circle cx="294.0" cy="1312.7" r="15.1"/><circle cx="295.8" cy="1311.6" r="15.1"/><circle cx="297.5" cy="1310.5" r="15.1"/><circle cx="299.2" cy="1309.4" r="15.1"/><circle cx="300.9" cy="1308.3" r="15.1"/><circle cx="302.6" cy="1307.2" r="15.1"/><circle cx="304.3" cy="1306.1" r="15.1"/><circle cx="306.0" cy="1305.0" r="15.1"/><circle cx="308.0" cy="1293.0" r="15.1"/><circle cx="310.0" cy="1278.0" r="15.1"/><circle cx="312.0" cy="1262.0" r="15.1"/><circle cx="314.5" cy="1245.0" r="15.1"/><circle cx="317.5" cy="1225.0" r="15.1"/><circle cx="321.0" cy="1200.0" r="15.1"/><circle cx="325.0" cy="1160.0" r="15.1"/><circle cx="329.9" cy="1102.3" r="15.1"/><circle cx="337.0" cy="1040.0" r="15.1"/><circle cx="345.0" cy="965.0" r="15.1"/><circle cx="354.0" cy="884.5" r="15.1"/><circle cx="362.0" cy="820.0" r="15.1"/><circle cx="370.0" cy="750.0" r="15.1"/><circle cx="378.6" cy="681.9" r="15.1"/><circle cx="388.0" cy="595.0" r="15.1"/><circle cx="396.0" cy="540.0" r="15.1"/><circle cx="405.0" cy="495.0" r="15.1"/><circle cx="416.8" cy="451.7" r="15.1"/><circle cx="430.0" cy="405.9" r="15.1"/><circle cx="445.0" cy="378.0" r="15.1"/><circle cx="462.0" cy="356.0" r="15.1"/><circle cx="480.0" cy="336.0" r="15.1"/><circle cx="500.0" cy="315.0" r="15.1"/><circle cx="518.0" cy="272.0" r="15.1"/><circle cx="537.8" cy="252.1" r="15.1"/><circle cx="565.0" cy="240.0" r="15.1"/><circle cx="596.7" cy="224.8" r="15.1"/><circle cx="625.0" cy="205.0" r="15.1"/><circle cx="657.6" cy="185.8" r="15.1"/><circle cx="700.0" cy="177.0" r="15.1"/><circle cx="750.0" cy="172.0" r="15.1"/><circle cx="810.5" cy="171.7" r="15.1"/><circle cx="860.0" cy="170.0" r="15.1"/><circle cx="920.0" cy="171.0" r="15.1"/><circle cx="976.4" cy="172.9" r="15.1"/><circle cx="1049.0" cy="188.0" r="15.1"/><circle cx="1116.4" cy="196.4" r="15.1"/></g>
<polyline points="250.0,1339.7 254.5,1338.5 258.5,1336.5 260.1,1335.2 261.8,1334.0 263.4,1332.8 265.0,1331.5 266.7,1330.4 268.4,1329.3 270.1,1328.2 271.8,1327.2 273.4,1326.1 275.1,1325.0 276.8,1323.9 278.5,1322.8 280.2,1321.8 281.9,1320.7 283.6,1319.6 285.2,1318.5 286.9,1317.4 288.6,1316.3 290.3,1315.2 292.0,1314.2 293.7,1313.1 295.4,1312.0 297.1,1310.9 298.8,1309.8 300.4,1308.8 302.1,1307.7 303.8,1306.6 305.5,1305.5 307.5,1295.0 309.5,1282.0 311.5,1266.0 313.5,1250.0 316.0,1232.0 319.0,1212.0 322.0,1185.0 325.2,1149.3 337.0,1045.0 344.7,972.9 369.3,759.2 378.6,670.9 386.0,610.0 393.0,546.0 401.0,500.0 412.0,458.0 425.0,420.0 440.0,392.0 458.0,370.0 478.0,340.0 500.0,318.0 524.0,290.0 545.0,268.0 563.7,253.5 585.2,225.0 601.0,220.5 619.7,222.0 650.0,200.0 690.0,180.0 720.0,167.0 771.7,176.4 830.0,172.0 885.8,176.4 932.9,181.1 975.0,176.0 1006.5,184.0 1080.0,191.0 1134.3,213.1 1155.7,219.9 1194.0,231.7 1243.5,260.0 1321.1,298.7 1349.9,312.9 1393.6,335.7 1458.6,366.7 1483.8,375.5 1519.7,388.1 1575.0,407.5 1596.4,413.3 1626.5,423.0 1673.0,433.7 1731.3,441.4" fill="none" stroke="#000" stroke-width="2.3" stroke-linejoin="round"/>
<g fill="#c4c4c4" stroke="#000" stroke-width="2.4"><circle cx="250.0" cy="1339.7" r="15.1"/><circle cx="254.5" cy="1338.5" r="15.1"/><circle cx="258.5" cy="1336.5" r="15.1"/><circle cx="260.1" cy="1335.2" r="15.1"/><circle cx="261.8" cy="1334.0" r="15.1"/><circle cx="263.4" cy="1332.8" r="15.1"/><circle cx="265.0" cy="1331.5" r="15.1"/><circle cx="266.7" cy="1330.4" r="15.1"/><circle cx="268.4" cy="1329.3" r="15.1"/><circle cx="270.1" cy="1328.2" r="15.1"/><circle cx="271.8" cy="1327.2" r="15.1"/><circle cx="273.4" cy="1326.1" r="15.1"/><circle cx="275.1" cy="1325.0" r="15.1"/><circle cx="276.8" cy="1323.9" r="15.1"/><circle cx="278.5" cy="1322.8" r="15.1"/><circle cx="280.2" cy="1321.8" r="15.1"/><circle cx="281.9" cy="1320.7" r="15.1"/><circle cx="283.6" cy="1319.6" r="15.1"/><circle cx="285.2" cy="1318.5" r="15.1"/><circle cx="286.9" cy="1317.4" r="15.1"/><circle cx="288.6" cy="1316.3" r="15.1"/><circle cx="290.3" cy="1315.2" r="15.1"/><circle cx="292.0" cy="1314.2" r="15.1"/><circle cx="293.7" cy="1313.1" r="15.1"/><circle cx="295.4" cy="1312.0" r="15.1"/><circle cx="297.1" cy="1310.9" r="15.1"/><circle cx="298.8" cy="1309.8" r="15.1"/><circle cx="300.4" cy="1308.8" r="15.1"/><circle cx="302.1" cy="1307.7" r="15.1"/><circle cx="303.8" cy="1306.6" r="15.1"/><circle cx="305.5" cy="1305.5" r="15.1"/><circle cx="307.5" cy="1295.0" r="15.1"/><circle cx="309.5" cy="1282.0" r="15.1"/><circle cx="311.5" cy="1266.0" r="15.1"/><circle cx="313.5" cy="1250.0" r="15.1"/><circle cx="316.0" cy="1232.0" r="15.1"/><circle cx="319.0" cy="1212.0" r="15.1"/><circle cx="322.0" cy="1185.0" r="15.1"/><circle cx="325.2" cy="1149.3" r="15.1"/><circle cx="337.0" cy="1045.0" r="15.1"/><circle cx="344.7" cy="972.9" r="15.1"/><circle cx="369.3" cy="759.2" r="15.1"/><circle cx="378.6" cy="670.9" r="15.1"/><circle cx="386.0" cy="610.0" r="15.1"/><circle cx="393.0" cy="546.0" r="15.1"/><circle cx="401.0" cy="500.0" r="15.1"/><circle cx="412.0" cy="458.0" r="15.1"/><circle cx="425.0" cy="420.0" r="15.1"/><circle cx="440.0" cy="392.0" r="15.1"/><circle cx="458.0" cy="370.0" r="15.1"/><circle cx="478.0" cy="340.0" r="15.1"/><circle cx="500.0" cy="318.0" r="15.1"/><circle cx="524.0" cy="290.0" r="15.1"/><circle cx="545.0" cy="268.0" r="15.1"/><circle cx="563.7" cy="253.5" r="15.1"/><circle cx="585.2" cy="225.0" r="15.1"/><circle cx="601.0" cy="220.5" r="15.1"/><circle cx="619.7" cy="222.0" r="15.1"/><circle cx="650.0" cy="200.0" r="15.1"/><circle cx="690.0" cy="180.0" r="15.1"/><circle cx="720.0" cy="167.0" r="15.1"/><circle cx="771.7" cy="176.4" r="15.1"/><circle cx="830.0" cy="172.0" r="15.1"/><circle cx="885.8" cy="176.4" r="15.1"/><circle cx="932.9" cy="181.1" r="15.1"/><circle cx="975.0" cy="176.0" r="15.1"/><circle cx="1006.5" cy="184.0" r="15.1"/><circle cx="1080.0" cy="191.0" r="15.1"/><circle cx="1134.3" cy="213.1" r="15.1"/><circle cx="1155.7" cy="219.9" r="15.1"/><circle cx="1194.0" cy="231.7" r="15.1"/><circle cx="1243.5" cy="260.0" r="15.1"/><circle cx="1321.1" cy="298.7" r="15.1"/><circle cx="1349.9" cy="312.9" r="15.1"/><circle cx="1393.6" cy="335.7" r="15.1"/><circle cx="1458.6" cy="366.7" r="15.1"/><circle cx="1483.8" cy="375.5" r="15.1"/><circle cx="1519.7" cy="388.1" r="15.1"/><circle cx="1575.0" cy="407.5" r="15.1"/><circle cx="1596.4" cy="413.3" r="15.1"/><circle cx="1626.5" cy="423.0" r="15.1"/><circle cx="1673.0" cy="433.7" r="15.1"/><circle cx="1731.3" cy="441.4" r="15.1"/></g>
<polyline points="250.0,1339.7 254.5,1338.5 256.0,1334.0 255.5,1317.0 257.0,1335.0 258.5,1336.5 260.1,1335.2 261.8,1334.0 263.4,1332.8 265.0,1331.5 266.7,1330.4 268.3,1329.3 270.0,1328.2 271.7,1327.1 273.3,1326.0 275.0,1324.9 276.7,1323.8 278.3,1322.7 280.0,1321.6 281.7,1320.5 283.3,1319.4 285.0,1318.2 286.7,1317.1 288.3,1316.0 290.0,1314.9 291.7,1313.8 293.3,1312.7 295.0,1311.6 296.7,1310.5 298.3,1309.4 300.0,1308.3 301.7,1307.2 303.3,1306.1 305.0,1305.0 306.5,1296.0 308.0,1286.0 309.5,1272.0 311.5,1256.0 313.5,1240.0 316.0,1224.0 319.0,1205.0 322.5,1180.0 327.0,1136.4 334.2,1076.0 342.2,991.2 358.3,863.3 363.8,816.2 371.0,741.4 382.9,634.4 395.0,548.0 408.8,471.0 420.0,432.0 437.0,395.0 446.0,376.0 459.5,362.0 477.0,328.2 495.8,314.1 505.3,301.1 515.8,288.2 532.3,272.9 557.0,260.0 593.0,242.5 617.0,228.2 629.8,212.5 648.2,204.7 669.4,197.6 700.0,187.0 709.4,183.5 728.2,181.1 756.4,178.8 795.2,177.6 852.9,176.4 876.4,174.1 909.4,178.8 958.7,183.5 1034.6,188.2 1062.3,194.1 1104.5,203.8 1166.0,226.0 1184.2,234.6 1210.5,245.8 1237.6,257.6" fill="none" stroke="#000" stroke-width="2.3" stroke-linejoin="round"/>
<g fill="#e0e0e0" stroke="#000" stroke-width="2.4"><circle cx="250.0" cy="1339.7" r="15.1"/><circle cx="254.5" cy="1338.5" r="15.1"/><circle cx="256.0" cy="1334.0" r="15.1"/><circle cx="255.5" cy="1317.0" r="15.1"/><circle cx="257.0" cy="1335.0" r="15.1"/><circle cx="258.5" cy="1336.5" r="15.1"/><circle cx="260.1" cy="1335.2" r="15.1"/><circle cx="261.8" cy="1334.0" r="15.1"/><circle cx="263.4" cy="1332.8" r="15.1"/><circle cx="265.0" cy="1331.5" r="15.1"/><circle cx="266.7" cy="1330.4" r="15.1"/><circle cx="268.3" cy="1329.3" r="15.1"/><circle cx="270.0" cy="1328.2" r="15.1"/><circle cx="271.7" cy="1327.1" r="15.1"/><circle cx="273.3" cy="1326.0" r="15.1"/><circle cx="275.0" cy="1324.9" r="15.1"/><circle cx="276.7" cy="1323.8" r="15.1"/><circle cx="278.3" cy="1322.7" r="15.1"/><circle cx="280.0" cy="1321.6" r="15.1"/><circle cx="281.7" cy="1320.5" r="15.1"/><circle cx="283.3" cy="1319.4" r="15.1"/><circle cx="285.0" cy="1318.2" r="15.1"/><circle cx="286.7" cy="1317.1" r="15.1"/><circle cx="288.3" cy="1316.0" r="15.1"/><circle cx="290.0" cy="1314.9" r="15.1"/><circle cx="291.7" cy="1313.8" r="15.1"/><circle cx="293.3" cy="1312.7" r="15.1"/><circle cx="295.0" cy="1311.6" r="15.1"/><circle cx="296.7" cy="1310.5" r="15.1"/><circle cx="298.3" cy="1309.4" r="15.1"/><circle cx="300.0" cy="1308.3" r="15.1"/><circle cx="301.7" cy="1307.2" r="15.1"/><circle cx="303.3" cy="1306.1" r="15.1"/><circle cx="305.0" cy="1305.0" r="15.1"/><circle cx="306.5" cy="1296.0" r="15.1"/><circle cx="308.0" cy="1286.0" r="15.1"/><circle cx="309.5" cy="1272.0" r="15.1"/><circle cx="311.5" cy="1256.0" r="15.1"/><circle cx="313.5" cy="1240.0" r="15.1"/><circle cx="316.0" cy="1224.0" r="15.1"/><circle cx="319.0" cy="1205.0" r="15.1"/><circle cx="322.5" cy="1180.0" r="15.1"/><circle cx="327.0" cy="1136.4" r="15.1"/><circle cx="334.2" cy="1076.0" r="15.1"/><circle cx="342.2" cy="991.2" r="15.1"/><circle cx="358.3" cy="863.3" r="15.1"/><circle cx="363.8" cy="816.2" r="15.1"/><circle cx="371.0" cy="741.4" r="15.1"/><circle cx="382.9" cy="634.4" r="15.1"/><circle cx="395.0" cy="548.0" r="15.1"/><circle cx="408.8" cy="471.0" r="15.1"/><circle cx="420.0" cy="432.0" r="15.1"/><circle cx="437.0" cy="395.0" r="15.1"/><circle cx="446.0" cy="376.0" r="15.1"/><circle cx="459.5" cy="362.0" r="15.1"/><circle cx="477.0" cy="328.2" r="15.1"/><circle cx="495.8" cy="314.1" r="15.1"/><circle cx="505.3" cy="301.1" r="15.1"/><circle cx="515.8" cy="288.2" r="15.1"/><circle cx="532.3" cy="272.9" r="15.1"/><circle cx="557.0" cy="260.0" r="15.1"/><circle cx="593.0" cy="242.5" r="15.1"/><circle cx="617.0" cy="228.2" r="15.1"/><circle cx="629.8" cy="212.5" r="15.1"/><circle cx="648.2" cy="204.7" r="15.1"/><circle cx="669.4" cy="197.6" r="15.1"/><circle cx="700.0" cy="187.0" r="15.1"/><circle cx="709.4" cy="183.5" r="15.1"/><circle cx="728.2" cy="181.1" r="15.1"/><circle cx="756.4" cy="178.8" r="15.1"/><circle cx="795.2" cy="177.6" r="15.1"/><circle cx="852.9" cy="176.4" r="15.1"/><circle cx="876.4" cy="174.1" r="15.1"/><circle cx="909.4" cy="178.8" r="15.1"/><circle cx="958.7" cy="183.5" r="15.1"/><circle cx="1034.6" cy="188.2" r="15.1"/><circle cx="1062.3" cy="194.1" r="15.1"/><circle cx="1104.5" cy="203.8" r="15.1"/><circle cx="1166.0" cy="226.0" r="15.1"/><circle cx="1184.2" cy="234.6" r="15.1"/><circle cx="1210.5" cy="245.8" r="15.1"/><circle cx="1237.6" cy="257.6" r="15.1"/></g>
<polyline points="250.0,1339.7 254.5,1338.5 259.5,1333.0 258.3,1272.5 261.5,1333.5 258.5,1336.5 260.1,1335.2 261.8,1334.0 263.4,1332.8 265.0,1331.5 266.6,1330.4 268.3,1329.3 269.9,1328.3 271.6,1327.2 273.2,1326.1 274.8,1325.0 276.5,1323.9 278.1,1322.9 279.8,1321.8 281.4,1320.7 283.0,1319.6 284.7,1318.5 286.3,1317.5 288.0,1316.4 289.6,1315.3 291.2,1314.2 292.9,1313.1 294.5,1312.1 296.2,1311.0 297.8,1309.9 299.4,1308.8 301.1,1307.7 302.7,1306.7 304.4,1305.6 306.0,1304.5 307.0,1300.5 308.2,1295.5 309.1,1290.0 310.0,1285.0 310.8,1275.0 312.5,1261.0 314.2,1248.5 315.2,1240.0 316.0,1231.5 317.6,1218.0 320.0,1198.7 323.5,1167.0 328.8,1118.8 337.7,1044.0 349.8,933.5 368.4,774.5 374.4,711.6 385.4,618.2 400.0,510.8 406.2,481.7 415.0,432.3 430.0,386.5 447.3,351.0 455.0,338.0 466.0,315.5 482.4,294.6 507.0,266.4 543.6,229.8 558.0,221.5 579.5,209.7 610.4,189.6 621.9,177.4 640.6,167.6 667.0,160.0 707.0,155.3 766.4,151.2 789.3,151.2 822.5,151.7 872.9,155.9 891.7,158.2 920.5,162.9 930.5,165.9 946.4,169.4 970.5,176.4 1006.4,189.0 1057.0,211.0 1080.5,218.8 1110.5,232.3 1156.4,254.0 1223.0,288.5 1237.6,295.2" fill="none" stroke="#000" stroke-width="2.3" stroke-linejoin="round"/>
<g fill="#ffffff" stroke="#000" stroke-width="2.4"><circle cx="250.0" cy="1339.7" r="15.1"/><circle cx="254.5" cy="1338.5" r="15.1"/><circle cx="259.5" cy="1333.0" r="15.1"/><circle cx="258.3" cy="1272.5" r="15.1"/><circle cx="261.5" cy="1333.5" r="15.1"/><circle cx="258.5" cy="1336.5" r="15.1"/><circle cx="260.1" cy="1335.2" r="15.1"/><circle cx="261.8" cy="1334.0" r="15.1"/><circle cx="263.4" cy="1332.8" r="15.1"/><circle cx="265.0" cy="1331.5" r="15.1"/><circle cx="266.6" cy="1330.4" r="15.1"/><circle cx="268.3" cy="1329.3" r="15.1"/><circle cx="269.9" cy="1328.3" r="15.1"/><circle cx="271.6" cy="1327.2" r="15.1"/><circle cx="273.2" cy="1326.1" r="15.1"/><circle cx="274.8" cy="1325.0" r="15.1"/><circle cx="276.5" cy="1323.9" r="15.1"/><circle cx="278.1" cy="1322.9" r="15.1"/><circle cx="279.8" cy="1321.8" r="15.1"/><circle cx="281.4" cy="1320.7" r="15.1"/><circle cx="283.0" cy="1319.6" r="15.1"/><circle cx="284.7" cy="1318.5" r="15.1"/><circle cx="286.3" cy="1317.5" r="15.1"/><circle cx="288.0" cy="1316.4" r="15.1"/><circle cx="289.6" cy="1315.3" r="15.1"/><circle cx="291.2" cy="1314.2" r="15.1"/><circle cx="292.9" cy="1313.1" r="15.1"/><circle cx="294.5" cy="1312.1" r="15.1"/><circle cx="296.2" cy="1311.0" r="15.1"/><circle cx="297.8" cy="1309.9" r="15.1"/><circle cx="299.4" cy="1308.8" r="15.1"/><circle cx="301.1" cy="1307.7" r="15.1"/><circle cx="302.7" cy="1306.7" r="15.1"/><circle cx="304.4" cy="1305.6" r="15.1"/><circle cx="306.0" cy="1304.5" r="15.1"/><circle cx="307.0" cy="1300.5" r="15.1"/><circle cx="308.2" cy="1295.5" r="15.1"/><circle cx="309.1" cy="1290.0" r="15.1"/><circle cx="310.0" cy="1285.0" r="15.1"/><circle cx="310.8" cy="1275.0" r="15.1"/><circle cx="312.5" cy="1261.0" r="15.1"/><circle cx="314.2" cy="1248.5" r="15.1"/><circle cx="315.2" cy="1240.0" r="15.1"/><circle cx="316.0" cy="1231.5" r="15.1"/><circle cx="317.6" cy="1218.0" r="15.1"/><circle cx="320.0" cy="1198.7" r="15.1"/><circle cx="323.5" cy="1167.0" r="15.1"/><circle cx="328.8" cy="1118.8" r="15.1"/><circle cx="337.7" cy="1044.0" r="15.1"/><circle cx="349.8" cy="933.5" r="15.1"/><circle cx="368.4" cy="774.5" r="15.1"/><circle cx="374.4" cy="711.6" r="15.1"/><circle cx="385.4" cy="618.2" r="15.1"/><circle cx="400.0" cy="510.8" r="15.1"/><circle cx="406.2" cy="481.7" r="15.1"/><circle cx="415.0" cy="432.3" r="15.1"/><circle cx="430.0" cy="386.5" r="15.1"/><circle cx="447.3" cy="351.0" r="15.1"/><circle cx="455.0" cy="338.0" r="15.1"/><circle cx="466.0" cy="315.5" r="15.1"/><circle cx="482.4" cy="294.6" r="15.1"/><circle cx="507.0" cy="266.4" r="15.1"/><circle cx="543.6" cy="229.8" r="15.1"/><circle cx="558.0" cy="221.5" r="15.1"/><circle cx="579.5" cy="209.7" r="15.1"/><circle cx="610.4" cy="189.6" r="15.1"/><circle cx="621.9" cy="177.4" r="15.1"/><circle cx="640.6" cy="167.6" r="15.1"/><circle cx="667.0" cy="160.0" r="15.1"/><circle cx="707.0" cy="155.3" r="15.1"/><circle cx="766.4" cy="151.2" r="15.1"/><circle cx="789.3" cy="151.2" r="15.1"/><circle cx="822.5" cy="151.7" r="15.1"/><circle cx="872.9" cy="155.9" r="15.1"/><circle cx="891.7" cy="158.2" r="15.1"/><circle cx="920.5" cy="162.9" r="15.1"/><circle cx="930.5" cy="165.9" r="15.1"/><circle cx="946.4" cy="169.4" r="15.1"/><circle cx="970.5" cy="176.4" r="15.1"/><circle cx="1006.4" cy="189.0" r="15.1"/><circle cx="1057.0" cy="211.0" r="15.1"/><circle cx="1080.5" cy="218.8" r="15.1"/><circle cx="1110.5" cy="232.3" r="15.1"/><circle cx="1156.4" cy="254.0" r="15.1"/><circle cx="1223.0" cy="288.5" r="15.1"/><circle cx="1237.6" cy="295.2" r="15.1"/></g>
<text x="250.00" y="1414.5" font-family="'Liberation Serif', serif" font-size="61.5" fill="#262626" text-anchor="middle">0</text>
<text x="455.71" y="1414.5" font-family="'Liberation Serif', serif" font-size="61.5" fill="#262626" text-anchor="middle">50</text>
<text x="661.42" y="1414.5" font-family="'Liberation Serif', serif" font-size="61.5" fill="#262626" text-anchor="middle">100</text>
<text x="867.14" y="1414.5" font-family="'Liberation Serif', serif" font-size="61.5" fill="#262626" text-anchor="middle">150</text>
<text x="1072.85" y="1414.5" font-family="'Liberation Serif', serif" font-size="61.5" fill="#262626" text-anchor="middle">200</text>
<text x="1278.56" y="1414.5" font-family="'Liberation Serif', serif" font-size="61.5" fill="#262626" text-anchor="middle">250</text>
<text x="1484.28" y="1414.5" font-family="'Liberation Serif', serif" font-size="61.5" fill="#262626" text-anchor="middle">300</text>
<text x="1689.99" y="1414.5" font-family="'Liberation Serif', serif" font-size="61.5" fill="#262626" text-anchor="middle">350</text>
<text x="1895.70" y="1414.5" font-family="'Liberation Serif', serif" font-size="61.5" fill="#262626" text-anchor="middle">400</text>
<text x="227.6" y="1354.50" font-family="'Liberation Serif', serif" font-size="61.5" fill="#262626" text-anchor="end">0</text>
<text x="227.6" y="1210.91" font-family="'Liberation Serif', serif" font-size="61.5" fill="#262626" text-anchor="end">200</text>
<text x="227.6" y="1067.32" font-family="'Liberation Serif', serif" font-size="61.5" fill="#262626" text-anchor="end">400</text>
<text x="227.6" y="923.73" font-family="'Liberation Serif', serif" font-size="61.5" fill="#262626" text-anchor="end">600</text>
<text x="227.6" y="780.14" font-family="'Liberation Serif', serif" font-size="61.5" fill="#262626" text-anchor="end">800</text>
<text x="227.6" y="636.56" font-family="'Liberation Serif', serif" font-size="61.5" fill="#262626" text-anchor="end">1000</text>
<text x="227.6" y="492.97" font-family="'Liberation Serif', serif" font-size="61.5" fill="#262626" text-anchor="end">1200</text>
<text x="227.6" y="349.38" font-family="'Liberation Serif', serif" font-size="61.5" fill="#262626" text-anchor="end">1400</text>
<text x="227.6" y="205.79" font-family="'Liberation Serif', serif" font-size="61.5" fill="#262626" text-anchor="end">1600</text>
<text x="227.6" y="62.20" font-family="'Liberation Serif', serif" font-size="61.5" fill="#262626" text-anchor="end">1800</text>
<text x="1073.5" y="1497" font-family="'Liberation Serif', serif" font-size="68.5" fill="#262626" text-anchor="middle" textLength="704.8" lengthAdjust="spacingAndGlyphs">UTM displacement, mm</text>
<text transform="translate(67.4 693.7) rotate(-90)" x="0" y="0" font-family="'Liberation Serif', serif" font-size="68.5" fill="#262626" text-anchor="middle" textLength="443.6" lengthAdjust="spacingAndGlyphs">UTM force, kN</text>
<rect x="1408.3" y="531.0" width="447.7" height="769.0" fill="#fff" stroke="#262626" stroke-width="2.5"/>
<path d="M1408.3 611.8H1856.0" stroke="#262626" stroke-width="2.5"/>
<text x="1632.1" y="585.8" font-family="'Liberation Serif', serif" font-size="55" fill="#000" text-anchor="middle" textLength="226.8" lengthAdjust="spacingAndGlyphs">Mesh size</text>
<path d="M1423.6 652.2H1575" stroke="#000" stroke-width="9.5"/>
<text y="665.6" font-family="'Liberation Serif', serif" font-size="55" fill="#000"><tspan x="1588.6" textLength="97" lengthAdjust="spacingAndGlyphs">Test</tspan> <tspan x="1707.2" textLength="131" lengthAdjust="spacingAndGlyphs">result</tspan></text>
<path d="M1423.6 719.7H1575" stroke="#000" stroke-width="2.3"/>
<circle cx="1499.3" cy="719.7" r="15.1" fill="#1a1a1a" stroke="#000" stroke-width="2.4"/>
<text y="733.1" font-family="'Liberation Serif', serif" font-size="55" fill="#000"><tspan x="1588.1" textLength="52" lengthAdjust="spacingAndGlyphs">24</tspan> <tspan x="1660.0" textLength="90" lengthAdjust="spacingAndGlyphs">mm</tspan></text>
<path d="M1423.6 787.2H1575" stroke="#000" stroke-width="2.3"/>
<circle cx="1499.3" cy="787.2" r="15.1" fill="#3b3b3b" stroke="#000" stroke-width="2.4"/>
<text y="800.6" font-family="'Liberation Serif', serif" font-size="55" fill="#000"><tspan x="1588.1" textLength="52" lengthAdjust="spacingAndGlyphs">25</tspan> <tspan x="1660.0" textLength="90" lengthAdjust="spacingAndGlyphs">mm</tspan></text>
<path d="M1423.6 854.7H1575" stroke="#000" stroke-width="2.3"/>
<circle cx="1499.3" cy="854.7" r="15.1" fill="#575757" stroke="#000" stroke-width="2.4"/>
<text y="868.1" font-family="'Liberation Serif', serif" font-size="55" fill="#000"><tspan x="1588.1" textLength="52" lengthAdjust="spacingAndGlyphs">26</tspan> <tspan x="1660.0" textLength="90" lengthAdjust="spacingAndGlyphs">mm</tspan></text>
<path d="M1423.6 922.2H1575" stroke="#000" stroke-width="2.3"/>
<circle cx="1499.3" cy="922.2" r="15.1" fill="#767676" stroke="#000" stroke-width="2.4"/>
<text y="935.6" font-family="'Liberation Serif', serif" font-size="55" fill="#000"><tspan x="1588.1" textLength="52" lengthAdjust="spacingAndGlyphs">28</tspan> <tspan x="1660.0" textLength="90" lengthAdjust="spacingAndGlyphs">mm</tspan></text>
<path d="M1423.6 989.7H1575" stroke="#f00" stroke-width="9.5"/>
<circle cx="1499.3" cy="989.7" r="15.2" fill="#fff" stroke="#f00" stroke-width="10.1"/>
<text y="1003.1" font-family="'Liberation Serif', serif" font-size="55" fill="#000"><tspan x="1588.1" textLength="52" lengthAdjust="spacingAndGlyphs">30</tspan> <tspan x="1660.0" textLength="90" lengthAdjust="spacingAndGlyphs">mm</tspan></text>
<path d="M1423.6 1057.2H1575" stroke="#000" stroke-width="2.3"/>
<circle cx="1499.3" cy="1057.2" r="15.1" fill="#a6a6a6" stroke="#000" stroke-width="2.4"/>
<text y="1070.6" font-family="'Liberation Serif', serif" font-size="55" fill="#000"><tspan x="1588.1" textLength="52" lengthAdjust="spacingAndGlyphs">33</tspan> <tspan x="1660.0" textLength="90" lengthAdjust="spacingAndGlyphs">mm</tspan></text>
<path d="M1423.6 1124.7H1575" stroke="#000" stroke-width="2.3"/>
<circle cx="1499.3" cy="1124.7" r="15.1" fill="#c4c4c4" stroke="#000" stroke-width="2.4"/>
<text y="1138.1" font-family="'Liberation Serif', serif" font-size="55" fill="#000"><tspan x="1588.1" textLength="52" lengthAdjust="spacingAndGlyphs">35</tspan> <tspan x="1660.0" textLength="90" lengthAdjust="spacingAndGlyphs">mm</tspan></text>
<path d="M1423.6 1192.2H1575" stroke="#000" stroke-width="2.3"/>
<circle cx="1499.3" cy="1192.2" r="15.1" fill="#e0e0e0" stroke="#000" stroke-width="2.4"/>
<text y="1205.6" font-family="'Liberation Serif', serif" font-size="55" fill="#000"><tspan x="1588.1" textLength="52" lengthAdjust="spacingAndGlyphs">38</tspan> <tspan x="1660.0" textLength="90" lengthAdjust="spacingAndGlyphs">mm</tspan></text>
<path d="M1423.6 1259.7H1575" stroke="#000" stroke-width="2.3"/>
<circle cx="1499.3" cy="1259.7" r="15.1" fill="#ffffff" stroke="#000" stroke-width="2.4"/>
<text y="1273.1" font-family="'Liberation Serif', serif" font-size="55" fill="#000"><tspan x="1588.1" textLength="52" lengthAdjust="spacingAndGlyphs">40</tspan> <tspan x="1660.0" textLength="90" lengthAdjust="spacingAndGlyphs">mm</tspan></text>
</svg>
</body></html>
